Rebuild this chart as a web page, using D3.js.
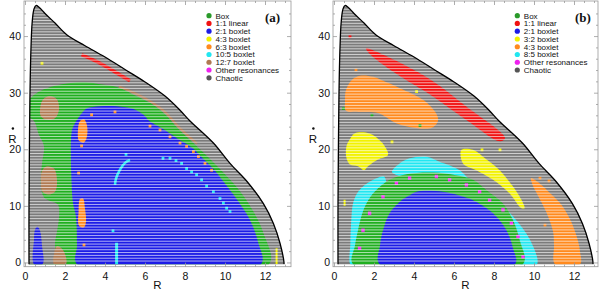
<!DOCTYPE html>
<html>
<head>
<meta charset="utf-8">
<script src="https://cdn.jsdelivr.net/npm/d3@7"></script>
<style>
  body { margin: 0; background: #fff; }
  text { font-family: "Liberation Sans", Arial, sans-serif; fill: #111; }
</style>
</head>
<body>
<svg id="chart"></svg>
<script>
// ---- data: (R, Rdot) pairs ----
const boundary = [[0.2,0],[0.2,10],[0.22,20],[0.25,30],[0.3,38],[0.36,42.5],[0.45,44.8],[0.55,45.4],[0.7,45.1],
  [1.0,44.0],[1.5,42.3],[2.1,40.2],[3.0,38.3],[4.0,36.3],[5.0,34.1],[6.0,31.9],[7.0,29.4],[7.75,26.9],[8.25,25.0],
  [9.42,21.1],[10.25,17.5],[11.08,14.4],[11.92,10.4],[12.42,6.9],[12.75,3.4],[12.95,0]];

const xTicks = [0, 2, 4, 6, 8, 10, 12];
const yTicks = [0, 10, 20, 30, 40];

// panel (a)
const legendA = ["Box", "1:1 linear", "2:1 boxlet", "4:3 boxlet", "6:3 boxlet", "10:5 boxlet", "12:7 boxlet", "Other resonances", "Chaotic"];
const legendAKeys = ["box", "linear", "b21", "b43", "b63", "b105", "b127", "other", "chaos"];

const aBox = [[0.2,-0.3],[0.2,28.5],[0.35,29.3],[0.7,30.2],[1.1,30.8],[1.85,31.5],[2.5,31.8],[3.2,31.8],[3.75,31.5],
  [4.6,31.0],[5.4,29.7],[6.25,28.2],[7.0,26.2],[7.75,23.3],[8.75,20.0],[9.75,16.5],[10.75,12.6],[11.42,9.0],[11.92,5.2],[12.2,-0.3]];
const aChaosLeft = [[0.2,-0.3],[0.2,25.5],[0.45,25.0],[0.7,22.5],[0.95,20.5],[0.85,17.5],[0.8,13.5],[0.95,11.5],[1.3,10.8],
  [1.65,10.2],[1.7,8],[1.6,5.5],[1.5,3.5],[1.45,-0.3]];
const aBlue = [[2.6,-0.3],[2.6,3],[2.55,8],[2.4,10.5],[2.33,14],[2.33,23],[2.45,24.3],[2.85,26.4],[3.08,27.2],[3.75,27.6],
  [4.58,27.6],[5.42,27.1],[5.92,26.1],[6.25,24.9],[6.75,23.9],[7.25,22.8],[7.75,21.6],[8.1,20.9],[8.45,20.0],[8.75,18.9],
  [9.4,16.6],[9.9,14.4],[10.58,11.2],[11.25,7.5],[11.67,3.4],[11.8,-0.3]];
const aBlueSmall = [[0.45,-0.3],[0.45,4],[0.5,5.8],[0.62,6.3],[0.75,5.6],[0.85,3],[0.88,-0.3]];
const aBrown1 = [[0.75,27],[0.9,28.8],[1.25,29.4],[1.6,28.8],[1.7,27],[1.5,25.5],[1.1,25.2],[0.8,25.8]];
const aBrown2 = [[0.8,14],[0.85,16.2],[1.1,17],[1.45,16.6],[1.6,14.5],[1.5,12.5],[1.15,12.0],[0.85,12.6]];
const aBrown3 = [[1.45,-0.3],[1.45,1.5],[1.6,2.9],[1.8,2.6],[2.0,1.5],[2.05,-0.3]];
const aOrange1 = [[2.7,21.5],[2.65,23.5],[2.75,25.0],[2.95,25.3],[3.1,24.2],[3.1,22.3],[2.95,21.2]];
const aOrange2 = [[2.7,6.5],[2.68,9],[2.75,11.2],[2.9,11.3],[3.0,9.5],[3.05,7.2],[2.95,6.2]];
const aRedLine = [[2.83,36.7],[3.75,35.2],[4.58,33.5],[5.25,32.1]];
const aBrownLine = [[4.7,31.1],[5.5,29.9],[6.25,28.5],[7.0,26.6],[7.75,23.7],[8.6,21.0]];
const aCyanArc = [[4.5,13.7],[4.55,14.8],[4.75,16.4],[5.0,17.6],[5.25,18.1]];
const aCyanBar = [[4.58,-0.3],[4.58,3.5]];
const aYellowBar = [[12.58,-0.3],[12.58,2.5]];
const aCyanDots = [[5.05,19.1],[4.4,5.6],[6.9,18.4],[7.25,18.4],[7.55,18.0],[7.83,17.5],[8.08,16.6],[8.33,16.0],[8.58,15.5],
  [8.83,14.6],[9.08,13.5],[9.42,12.5],[9.75,11.3],[9.92,10.5],[10.08,9.6],[10.25,9.0]];
const aOrangeDots = [[6.25,24.1],[6.75,23.4],[7.25,22.2],[7.75,21.1],[8.08,20.5],[8.42,19.6],[8.67,18.7],[9.0,17.5],[9.33,16.3],
  [3.33,26.1],[4.5,26.6],[2.83,20.6],[2.68,15.8],[2.95,3.1]];
const aYellowDots = [[0.85,35.2]];

// panel (b)
const legendB = ["Box", "1:1 linear", "2:1 boxlet", "3:2 boxlet", "4:3 boxlet", "8:5 boxlet", "Other resonances", "Chaotic"];
const legendBKeys = ["box", "linear", "b21", "b32", "b43o", "b85", "other", "chaos"];

const bRed = [[1.6,37.8],[3,35.8],[5,31.9],[6.6,27.6],[8.55,22.0],[8.3,21.4],[6.6,25.2],[5,29.2],[3,33.6],[1.8,36.8]];
const bOrangeBig = [[0.6,30.5],[0.9,32.3],[1.3,33.0],[1.97,32.8],[2.4,32.2],[3.3,30.8],[4.47,28.7],[5.13,26.2],[5.2,25.0],
  [4.9,23.8],[4.0,23.8],[3.1,24.6],[2.2,26.4],[1.2,26.6],[0.6,26.8],[0.55,28.5]];
const bYellowL = [[0.62,20.5],[0.8,21.8],[1.03,22.8],[1.78,22.8],[2.28,21.6],[2.6,20.2],[2.7,19.0],[2.2,18.2],[1.7,17.0],
  [1.5,16.3],[1.2,17.0],[0.8,17.3],[0.62,18.5]];
const bYellowR = [[6.37,19.9],[6.95,19.9],[7.45,18.7],[8.28,16.3],[8.95,13.4],[9.35,11.2],[9.53,9.6],[9.37,9.6],[8.78,12.2],
  [7.95,14.6],[7.12,16.3],[6.45,17.5]];
const bOrangeR = [[9.85,14.9],[10.2,14.2],[10.7,12.6],[11.3,10.5],[11.75,8.0],[12.1,5.0],[12.3,2.0],[12.3,-0.3],[11.05,-0.3],
  [11.0,3],[10.95,5.5],[10.6,9.0],[10.2,11.8],[9.95,13.5]];
const bCyanL = [[0.82,-0.3],[0.82,3.4],[0.85,6.5],[0.95,10.4],[1.15,12.2],[1.45,13.4],[1.8,14.3],[2.12,14.9],[2.5,15.2],
  [2.6,13.5],[1.8,11],[1.3,6],[1.1,-0.3]];
const bCyanTop = [[2.9,16.0],[3.28,17.5],[3.78,18.4],[4.62,18.7],[5.28,17.8],[6.28,16.3],[6.78,14.6],[7.2,13.5],[6.5,13.8],
  [5.5,14.5],[4.3,14.8],[3.4,15.2]];
const bCyanR = [[7.2,13.5],[7.95,11.6],[8.95,8.1],[9.8,4.0],[10.15,-0.3],[9.3,-0.3],[9.1,4],[8.5,8],[7.5,11.8]];
const bBox = [[0.95,-0.3],[1.05,3],[1.2,5.7],[1.4,8.5],[1.62,10.4],[2.03,12.5],[2.78,14.6],[3.62,15.6],[4.95,15.9],
  [6.1,15.4],[6.95,14.6],[7.62,12.8],[8.45,10.4],[8.95,7.5],[9.28,4.0],[9.45,-0.3]];
const bBlue = [[2.28,-0.3],[2.3,3],[2.45,5.7],[2.78,8.7],[3.28,10.7],[3.8,11.9],[4.12,12.5],[5.45,12.5],[6.3,11.8],
  [6.95,11.0],[7.95,8.7],[8.62,5.7],[8.95,2.5],[9.05,-0.3]];
const bMagentaDots = [[1.28,2.5],[1.45,5.7],[1.78,8.7],[2.45,11.6],[3.12,14.0],[3.78,14.9],[5.12,15.2],[5.78,14.6],[6.62,13.7],
  [7.28,12.5],[7.78,11.0],[8.45,9.3],[8.87,6.9],[9.2,4.6],[9.45,1.0]];
const bYellowBar = [[0.53,10.0],[0.53,11.1]];
const bRedDots = [[0.8,39.9]];
const bGreenDots = [[0.47,27.2],[1.9,26.0],[4.3,24.2]];
const bYellowDots = [[4.13,30.2],[7.4,19.9],[8.3,19.9],[2.9,21.3]];
const bOrangeDots = [[10.3,14.9],[10.55,6.6],[10.75,14.4],[1.1,34.0]];

// ---- styles ----
const color = {
  box: "#1fae1f", linear: "#f01212", b21: "#1c1ce6", b43: "#f2f200", b32: "#f2f200", b63: "#ff8a1e", b43o: "#ff8a1e",
  b105: "#22e6f0", b85: "#22e6f0", b127: "#b07a52", other: "#ee22ee", chaos: "#7b7b7b"
};
const legendColor = Object.assign({}, color, { chaos: "#555555", box: "#2a9a2a" });

const width = 600, height = 295;
const frameTop = 1, frameBottom = 266.7;
const layout = [
  { key: "a", left: 24, right: 291, xMax: 13.3, yLabelX: 12.5, legendX: 209, labelX: 265 },
  { key: "b", left: 333, right: 598, xMax: 13.2, yLabelX: 313, legendX: 517.3, labelX: 575 }
];

const svg = d3.select("#chart").attr("width", width).attr("height", height);

const yScale = d3.scaleLinear().domain([-0.75, 46.2]).range([frameBottom, frameTop]);

function drawPanel(p, layers, strokes, dots, legendNames, legendKeys, label) {
  const xScale = d3.scaleLinear().domain([-0.05, p.xMax]).range([p.left, p.right]);
  const g = svg.append("g");

  const closed = d3.line().x(d => xScale(d[0])).y(d => yScale(d[1])).curve(d3.curveCatmullRomClosed.alpha(0.5));
  const open = d3.line().x(d => xScale(d[0])).y(d => yScale(d[1])).curve(d3.curveCatmullRom.alpha(0.5));
  const edge = [[boundary[0][0], -0.3], ...boundary, [boundary[boundary.length - 1][0], -0.3]];

  g.append("clipPath").attr("id", "clip-" + p.key)
    .append("path").attr("d", open(edge) + "Z");

  const body = g.append("g").attr("clip-path", `url(#clip-${p.key})`);
  body.append("rect")
    .attr("x", p.left).attr("y", frameTop).attr("width", p.right - p.left).attr("height", frameBottom - frameTop)
    .attr("fill", color.chaos);

  layers.forEach(([k, pts]) => {
    body.append("path").attr("d", closed(pts)).attr("fill", color[k]);
  });
  strokes.forEach(([k, pts, w]) => {
    body.append("path").attr("d", open(pts)).attr("fill", "none").attr("stroke", color[k]).attr("stroke-width", w);
  });
  dots.forEach(([k, pts, s]) => {
    const size = s || 2.8;
    body.selectAll(null).data(pts).join("rect")
      .attr("x", d => xScale(d[0]) - size / 2).attr("y", d => yScale(d[1]) - size / 2)
      .attr("width", size).attr("height", size).attr("fill", color[k]);
  });

  // cell rows
  body.selectAll(null).data(d3.range(0.25, 46, 0.5)).join("line")
    .attr("x1", p.left).attr("x2", p.right)
    .attr("y1", d => yScale(d)).attr("y2", d => yScale(d))
    .attr("stroke", "#fff").attr("stroke-opacity", 0.72).attr("stroke-width", 0.9);

  g.append("path").attr("d", open(edge)).attr("fill", "none").attr("stroke", "#000").attr("stroke-width", 1.3);

  // frame + ticks
  g.append("rect")
    .attr("x", p.left).attr("y", frameTop).attr("width", p.right - p.left).attr("height", frameBottom - frameTop)
    .attr("fill", "none").attr("stroke", "#999").attr("stroke-width", 0.8);

  const minorX = d3.range(0, 13.01, 0.5).filter(v => v % 2 !== 0);
  const minorY = d3.range(0, 46, 2).filter(v => v % 10 !== 0);
  const axes = [
    [d3.axisBottom(xScale).tickValues(xTicks).tickSize(-4).tickPadding(6), `translate(0,${frameBottom})`],
    [d3.axisBottom(xScale).tickValues(minorX).tickSize(-2).tickFormat(""), `translate(0,${frameBottom})`],
    [d3.axisTop(xScale).tickValues(xTicks).tickSize(-4).tickFormat(""), `translate(0,${frameTop})`],
    [d3.axisTop(xScale).tickValues(minorX).tickSize(-2).tickFormat(""), `translate(0,${frameTop})`],
    [d3.axisLeft(yScale).tickValues(yTicks).tickSize(-4).tickPadding(3), `translate(${p.left},0)`],
    [d3.axisLeft(yScale).tickValues(minorY).tickSize(-2).tickFormat(""), `translate(${p.left},0)`],
    [d3.axisRight(yScale).tickValues(yTicks).tickSize(-4).tickFormat(""), `translate(${p.right},0)`],
    [d3.axisRight(yScale).tickValues(minorY).tickSize(-2).tickFormat(""), `translate(${p.right},0)`]
  ];
  axes.forEach(([ax, tr]) => {
    const a = g.append("g").attr("transform", tr).call(ax);
    a.select(".domain").remove();
    a.selectAll("line").attr("stroke", "#999").attr("stroke-width", 0.8);
    a.selectAll("text").style("font-family", "'Liberation Sans', Arial, sans-serif").attr("font-size", 10.5).attr("fill", "#111");
  });

  const cx = (p.left + p.right) / 2;
  g.append("text").attr("x", cx).attr("y", 289).attr("text-anchor", "middle").attr("font-size", 11.5).text("R");
  g.append("text").attr("x", p.yLabelX).attr("y", 142.5).attr("text-anchor", "middle").attr("font-size", 11.5).text("R");
  g.append("circle").attr("cx", p.yLabelX + 0.4).attr("cy", 128.5).attr("r", 1.2).attr("fill", "#111");

  // legend
  const lg = g.append("g");
  legendNames.forEach((name, i) => {
    const y = 15.7 + i * 7.76;
    lg.append("circle").attr("cx", p.legendX).attr("cy", y).attr("r", 2.6).attr("fill", legendColor[legendKeys[i]]);
    lg.append("text").attr("x", p.legendX + 6.5).attr("y", y + 2.8).attr("font-size", 8).text(name);
  });
  g.append("text").attr("x", p.labelX).attr("y", 21.5)
    .style("font-family", "'Liberation Serif', 'DejaVu Serif', serif").attr("font-weight", "bold").attr("font-size", 13)
    .text(label);
}

drawPanel(layout[0],
  [["box", aBox], ["chaos", aChaosLeft], ["b21", aBlue], ["b21", aBlueSmall], ["b127", aBrown1], ["b127", aBrown2],
   ["b127", aBrown3], ["b63", aOrange1], ["b63", aOrange2]],
  [["linear", aRedLine, 3.5], ["b127", aBrownLine, 2], ["b105", aCyanArc, 2.6], ["b105", aCyanBar, 3], ["b43", aYellowBar, 2]],
  [["b105", aCyanDots], ["b63", aOrangeDots], ["b43", aYellowDots]],
  legendA, legendAKeys, "(a)");

drawPanel(layout[1],
  [["linear", bRed], ["b43o", bOrangeBig], ["b32", bYellowL], ["b32", bYellowR], ["b43o", bOrangeR],
   ["b85", bCyanL], ["b85", bCyanTop], ["b85", bCyanR], ["box", bBox], ["b21", bBlue]],
  [["b32", bYellowBar, 2]],
  [["other", bMagentaDots, 3.4], ["linear", bRedDots], ["box", bGreenDots], ["b32", bYellowDots], ["b43o", bOrangeDots]],
  legendB, legendBKeys, "(b)");
</script>
</body>
</html>
